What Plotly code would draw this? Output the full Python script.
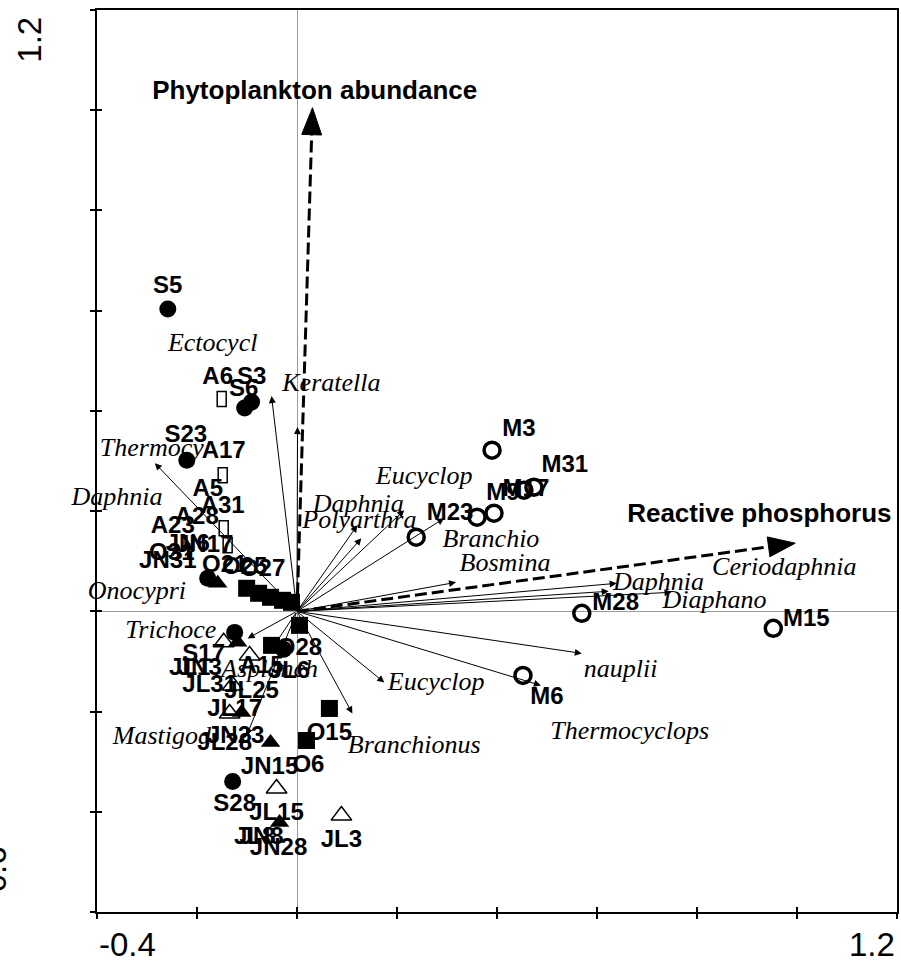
import math
import plotly.graph_objects as go

X_RANGE = [-0.4, 1.2]
Y_RANGE = [-0.6, 1.2]
X_TICK_LABELS = ["-0.4", "1.2"]
Y_TICK_LABELS = ["1.2", "-0.6"]

# Environmental variables (dashed arrows)
env_names = ["Phytoplankton abundance", "Reactive phosphorus"]
env_x = [0.031, 0.9965]
env_y = [1.005, 0.136]
env_label_x = [0.0354, 0.9247]
env_label_y = [1.035, 0.1918]

# Species arrows (tips) and labels
spec_names = ["Keratella", "Ectocycl", "Thermocy", "Daphnia", "Polyarthra", "Branchio",
              "Eucyclop", "Bosmina", "Daphnia", "Diaphano", "Ceriodaphnia", "nauplii",
              "Thermocyclops", "Eucyclop", "Branchionus", "Trichoce", "Asplanch",
              "Mastigod", "Daphnia", "Onocypri"]
spec_tip_x = [-0.0509, 0.001, -0.2843, 0.2145, 0.1287, 0.1207,
              0.2943, 0.318, 0.6394, 0.6234, 0.7491, 0.5696,
              0.4878, 0.1746, 0.1107, -0.0988, -0.0549,
              -0.1007, None, None]
spec_tip_y = [0.4296, 0.3676, 0.2957, 0.2018, 0.1459, 0.1718,
              0.1858, 0.0579, 0.0559, 0.040, 0.038, -0.0839,
              -0.1479, -0.1419, -0.2038, -0.054, -0.0819,
              -0.2478, None, None]
spec_label_x = [0.0688, -0.1686, -0.2903, 0.1227, 0.1247, 0.388,
                0.2544, 0.416, 0.7232, 0.8349, 0.9746, 0.6474,
                0.6653, 0.2783, 0.2344, -0.2524, -0.0549,
                -0.2703, -0.3601, -0.3202]
spec_label_y = [0.4535, 0.5315, 0.3237, 0.2118, 0.1798, 0.1419,
                0.2677, 0.0939, 0.0559, 0.020, 0.0859, -0.1179,
                -0.2418, -0.1439, -0.2697, -0.040, -0.1179,
                -0.2517, 0.2258, 0.038]

# Samples by month
sep_x = [-0.2584, -0.0908, -0.1047, -0.2204, -0.1786, -0.1247, -0.0269, -0.1287]
sep_y = [0.6034, 0.4176, 0.4056, 0.3017, 0.0659, -0.042, -0.0759, -0.3397]
jun_x = [-0.1586, -0.1187, -0.1107, -0.0529, -0.0349]
jun_y = [0.0559, -0.0619, -0.2018, -0.2617, -0.4216]
jul_x = [-0.1466, -0.0948, -0.1287, -0.1347, -0.0409, 0.0888]
jul_y = [-0.0619, -0.0879, -0.1479, -0.2038, -0.3536, -0.4076]
oct_x = [-0.1007, -0.0768, -0.0529, -0.0289, -0.011, 0.005, -0.0509, 0.0648, 0.019]
oct_y = [0.046, 0.036, 0.028, 0.022, 0.018, -0.028, -0.0679, -0.1938, -0.2577]
aug_x = [-0.1506, -0.1486, -0.1466, -0.1387]
aug_y = [0.4236, 0.2717, 0.1658, 0.1319]
may_x = [0.3901, 0.4738, 0.4539, 0.394, 0.3601, 0.2384, 0.5696, 0.9526, 0.4519]
may_y = [0.3217, 0.2478, 0.2418, 0.1958, 0.1878, 0.1479, -0.004, -0.034, -0.1279]

site_labels = ["S5", "A6", "S3", "S6", "S23", "A17", "A5", "A31", "A28", "A23",
               "JN6", "JN17", "O31", "JN31", "O21", "O25", "O27", "S17", "O28",
               "JL1", "JN3", "A15", "JL6", "JL31", "JL25", "JL17", "JN23", "JL28",
               "O15", "JN15", "O6", "S28", "JL15", "JL8", "JN8", "JN28", "JL3",
               "M3", "M31", "M9", "M17", "M23", "M28", "M15", "M6"]
site_label_x = [-0.2584, -0.1586, -0.0908, -0.1067, -0.2224, -0.1466, -0.1785, -0.1486, -0.2005, -0.2484,
                -0.2185, -0.1846, -0.2504, -0.2584, -0.1446, -0.1047, -0.0688, -0.1866, 0.005,
                -0.2145, -0.1945, -0.0708, -0.015, -0.1746, -0.0908, -0.1247, -0.1227, -0.1446,
                0.0648, -0.0549, 0.0229, -0.1247, -0.0409, -0.0848, -0.0708, -0.0369, 0.0888,
                0.4439, 0.5357, 0.412, 0.4579, 0.3062, 0.6374, 1.0185, 0.4998]
site_label_y = [0.6474, 0.4655, 0.4655, 0.4416, 0.3497, 0.3177, 0.2418, 0.2078, 0.1858, 0.1678,
                0.1319, 0.1299, 0.1139, 0.0979, 0.0899, 0.0859, 0.0819, -0.0879, -0.0759,
                -0.1159, -0.1159, -0.1119, -0.1219, -0.1499, -0.1618, -0.1978, -0.2517, -0.2657,
                -0.2438, -0.3117, -0.3077, -0.3856, -0.4036, -0.4516, -0.4516, -0.4735, -0.4575,
                0.3616, 0.2897, 0.2338, 0.2418, 0.1938, 0.014, -0.018, -0.1738]

PLOT_W, PLOT_H = 802, 902
sx = PLOT_W / (X_RANGE[1] - X_RANGE[0])
sy = PLOT_H / (Y_RANGE[1] - Y_RANGE[0])

fig = go.Figure()
NOHOVER = dict(hoverinfo="skip", showlegend=False)

# thin species arrows
for tx, ty in zip(spec_tip_x, spec_tip_y):
    if tx is None:
        continue
    fig.add_annotation(x=tx, y=ty, ax=0, ay=0, xref="x", yref="y", axref="x", ayref="y",
                       text="", showarrow=True, arrowhead=2, arrowsize=1.4, arrowwidth=1,
                       arrowcolor="black", standoff=0)

# dashed environmental arrows
HEAD_LEN, HEAD_HALF = 27, 10
for tx, ty in zip(env_x, env_y):
    px, py = tx * sx, ty * sy
    L = math.hypot(px, py)
    dx, dy = px / L, py / L
    bx, by = px - HEAD_LEN * dx, py - HEAD_LEN * dy
    nx, ny = -dy, dx
    fig.add_trace(go.Scatter(x=[0, bx / sx], y=[0, by / sy], mode="lines",
                             line=dict(color="black", width=3, dash="12px,5px"), **NOHOVER))
    fig.add_trace(go.Scatter(
        x=[tx, (bx + HEAD_HALF * nx) / sx, (bx - HEAD_HALF * nx) / sx, tx],
        y=[ty, (by + HEAD_HALF * ny) / sy, (by - HEAD_HALF * ny) / sy, ty],
        mode="lines", fill="toself", fillcolor="black",
        line=dict(color="black", width=1), **NOHOVER))

# markers
fig.add_trace(go.Scatter(x=sep_x, y=sep_y, mode="markers",
                         marker=dict(symbol="circle", size=17, color="black"), **NOHOVER))
fig.add_trace(go.Scatter(x=jun_x, y=jun_y, mode="markers",
                         marker=dict(symbol="triangle-up", size=17, color="black"), **NOHOVER))
fig.add_trace(go.Scatter(x=jul_x, y=jul_y, mode="markers",
                         marker=dict(symbol="triangle-up-open", size=18, color="black",
                                     line=dict(width=1.5, color="black")), **NOHOVER))
fig.add_trace(go.Scatter(x=oct_x, y=oct_y, mode="markers",
                         marker=dict(symbol="square", size=17, color="black"), **NOHOVER))
fig.add_trace(go.Scatter(x=may_x, y=may_y, mode="markers",
                         marker=dict(symbol="circle-open", size=16, color="black",
                                     line=dict(width=3.5, color="black")), **NOHOVER))
for ax_, ay_ in zip(aug_x, aug_y):
    fig.add_shape(type="rect", xref="x", yref="y", xsizemode="pixel", ysizemode="pixel",
                  xanchor=ax_, yanchor=ay_, x0=-4.5, x1=4.5, y0=-7.5, y1=7.5,
                  line=dict(color="black", width=1.5), fillcolor="rgba(0,0,0,0)")

# labels
fig.add_trace(go.Scatter(x=spec_label_x, y=spec_label_y, text=spec_names, mode="text",
                         textposition="middle center", cliponaxis=False,
                         textfont=dict(family="Liberation Serif", size=26, style="italic",
                                       color="black"), **NOHOVER))
fig.add_trace(go.Scatter(x=site_label_x, y=site_label_y, text=site_labels, mode="text",
                         textposition="middle center", cliponaxis=False,
                         textfont=dict(family="Liberation Sans", size=24, weight="bold",
                                       color="black"), **NOHOVER))
fig.add_trace(go.Scatter(x=env_label_x, y=env_label_y, text=env_names, mode="text",
                         textposition="middle center", cliponaxis=False,
                         textfont=dict(family="Liberation Sans", size=26, weight="bold",
                                       color="black"), **NOHOVER))

# dummy trace for inside-tick overlay axes
fig.add_trace(go.Scatter(x=[X_RANGE[0]], y=[Y_RANGE[0]], mode="markers",
                         marker=dict(opacity=0), xaxis="x2", yaxis="y2", **NOHOVER))

tick_common = dict(tickcolor="black", tickwidth=1.5, ticklen=5, showgrid=False,
                   showticklabels=False)
fig.update_layout(
    width=901, height=960,
    margin=dict(l=97, r=2, t=10, b=48),
    paper_bgcolor="white", plot_bgcolor="white",
    xaxis=dict(range=X_RANGE, tick0=-0.4, dtick=0.2, ticks="outside",
               showline=True, linecolor="black", linewidth=2, mirror=True,
               zeroline=True, zerolinecolor="#9a9a9a", zerolinewidth=1, **tick_common),
    yaxis=dict(range=Y_RANGE, tick0=-0.6, dtick=0.2, ticks="outside",
               showline=True, linecolor="black", linewidth=2, mirror=True,
               zeroline=True, zerolinecolor="#9a9a9a", zerolinewidth=1, **tick_common),
    xaxis2=dict(range=X_RANGE, tick0=-0.4, dtick=0.2, ticks="inside", overlaying="x",
                anchor="y2", side="bottom", showline=False, zeroline=False, **tick_common),
    yaxis2=dict(range=Y_RANGE, tick0=-0.6, dtick=0.2, ticks="inside", overlaying="y",
                anchor="x2", side="left", showline=False, zeroline=False, **tick_common),
    hovermode=False,
)

num_font = dict(family="Liberation Sans", size=33, color="black")
fig.add_annotation(x=0, y=0, xref="paper", yref="paper", text=X_TICK_LABELS[0],
                   showarrow=False, xanchor="left", yanchor="top", yshift=-12, font=num_font)
fig.add_annotation(x=1, y=0, xref="paper", yref="paper", text=X_TICK_LABELS[1],
                   showarrow=False, xanchor="right", yanchor="top", yshift=-12, font=num_font)
fig.add_annotation(x=-0.0854, y=0.9667, xref="paper", yref="paper", text=Y_TICK_LABELS[0],
                   showarrow=False, textangle=-90, xanchor="center", yanchor="middle",
                   font=num_font)
fig.add_annotation(x=-0.1284, y=0.041, xref="paper", yref="paper", text=Y_TICK_LABELS[1],
                   showarrow=False, textangle=-90, xanchor="center", yanchor="middle",
                   font=num_font)

fig.write_html("out.html")
